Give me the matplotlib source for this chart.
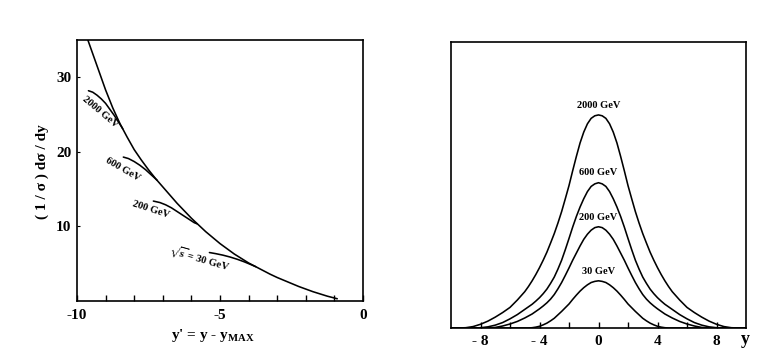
import matplotlib
matplotlib.use("Agg")
import matplotlib.pyplot as plt

# ---------------- data: left panel ----------------
main_x = [-9.62, -9.5, -9.25, -9.0, -8.75, -8.5, -8.25, -8.0, -7.75, -7.5, -7.25,
          -7.0, -6.75, -6.5, -6.25, -6.0, -5.75, -5.5, -5.25, -5.0, -4.75, -4.5,
          -4.25, -4.0, -3.75, -3.5, -3.25, -3.0, -2.75, -2.5, -2.25, -2.0, -1.75,
          -1.5, -1.25, -1.0, -0.9]
main_y = [35.0, 33.7, 31.0, 28.3, 25.9, 23.8, 22.0, 20.3, 18.9, 17.6, 16.4,
          15.3, 14.2, 13.1, 12.1, 11.1, 10.2, 9.3, 8.5, 7.7, 7.0, 6.3,
          5.7, 5.1, 4.6, 4.1, 3.6, 3.15, 2.75, 2.35, 1.95, 1.6, 1.25,
          0.95, 0.65, 0.4, 0.3]

e2000_x = [-9.60, -9.45, -9.30, -9.15, -9.00, -8.85, -8.70, -8.55, -8.40]
e2000_y = [28.2, 28.0, 27.6, 27.1, 26.5, 25.7, 24.9, 24.0, 23.1]
e600_x = [-8.38, -8.20, -8.00, -7.80, -7.60, -7.40, -7.20]
e600_y = [19.3, 19.1, 18.7, 18.2, 17.6, 16.9, 16.2]
e200_x = [-7.33, -7.10, -6.90, -6.70, -6.50, -6.30, -6.10, -5.90, -5.80]
e200_y = [13.4, 13.2, 12.9, 12.5, 12.0, 11.5, 11.0, 10.5, 10.35]
e30_x = [-5.37, -5.15, -4.90, -4.65, -4.40, -4.15, -3.90, -3.75]
e30_y = [6.5, 6.35, 6.15, 5.9, 5.6, 5.25, 4.85, 4.6]

left_labels = ["2000 GeV", "600 GeV", "200 GeV", r"$\sqrt{\mathbf{s}}$ = 30 GeV"]
left_xticks = [-10, -5, 0]
left_yticks = [10, 20, 30]

# ---------------- data: right panel ----------------
y_grid = [-10.0, -9.5, -9.0, -8.5, -8.0, -7.5, -7.0, -6.5, -6.0, -5.5,
          -5.0, -4.75, -4.5, -4.25, -4.0, -3.75, -3.5, -3.25, -3.0, -2.75, -2.5,
          -2.25, -2.0, -1.75, -1.5, -1.25, -1.0, -0.75, -0.5, -0.25, 0.0,
          0.25, 0.5, 0.75, 1.0, 1.25, 1.5, 1.75, 2.0, 2.25, 2.5,
          2.75, 3.0, 3.25, 3.5, 3.75, 4.0, 4.25, 4.5, 4.75, 5.0,
          5.5, 6.0, 6.5, 7.0, 7.5, 8.0, 8.5, 9.0, 9.5, 10.0]
dn_2000 = [0.0, 0.0, 0.01, 0.05, 0.13, 0.24, 0.38, 0.54, 0.72, 0.98,
           1.27, 1.45, 1.65, 1.87, 2.11, 2.37, 2.65, 2.97, 3.30, 3.67, 4.07,
           4.52, 4.98, 5.50, 6.00, 6.47, 6.85, 7.14, 7.33, 7.42, 7.45,
           7.42, 7.33, 7.14, 6.85, 6.47, 6.00, 5.50, 4.98, 4.52, 4.07,
           3.67, 3.30, 2.97, 2.65, 2.37, 2.11, 1.87, 1.65, 1.45, 1.27,
           0.98, 0.72, 0.54, 0.38, 0.24, 0.13, 0.05, 0.01, 0.0, 0.0]
dn_600 = [0.0, 0.0, 0.0, 0.0, 0.01, 0.04, 0.10, 0.19, 0.32, 0.47,
          0.65, 0.74, 0.83, 0.94, 1.06, 1.20, 1.36, 1.56, 1.78, 2.06, 2.37,
          2.74, 3.13, 3.53, 3.90, 4.23, 4.52, 4.77, 4.95, 5.04, 5.08,
          5.04, 4.95, 4.77, 4.52, 4.23, 3.90, 3.53, 3.13, 2.74, 2.37,
          2.06, 1.78, 1.56, 1.36, 1.20, 1.06, 0.94, 0.83, 0.74, 0.65,
          0.47, 0.32, 0.19, 0.10, 0.04, 0.01, 0.0, 0.0, 0.0, 0.0]
dn_200 = [0.0, 0.0, 0.0, 0.0, 0.0, 0.0, 0.02, 0.07, 0.14, 0.23,
          0.35, 0.42, 0.49, 0.58, 0.67, 0.77, 0.88, 1.01, 1.17, 1.37, 1.59,
          1.84, 2.10, 2.37, 2.62, 2.87, 3.10, 3.28, 3.42, 3.51, 3.54,
          3.51, 3.42, 3.28, 3.10, 2.87, 2.62, 2.37, 2.10, 1.84, 1.59,
          1.37, 1.17, 1.01, 0.88, 0.77, 0.67, 0.58, 0.49, 0.42, 0.35,
          0.23, 0.14, 0.07, 0.02, 0.0, 0.0, 0.0, 0.0, 0.0, 0.0]
dn_30 = [0.0, 0.0, 0.0, 0.0, 0.0, 0.0, 0.0, 0.0, 0.0, 0.0,
         0.0, 0.0, 0.01, 0.03, 0.06, 0.11, 0.17, 0.25, 0.34, 0.46, 0.58,
         0.71, 0.84, 1.00, 1.15, 1.29, 1.41, 1.51, 1.59, 1.63, 1.65,
         1.63, 1.59, 1.51, 1.41, 1.29, 1.15, 1.00, 0.84, 0.71, 0.58,
         0.46, 0.34, 0.25, 0.17, 0.11, 0.06, 0.03, 0.01, 0.0, 0.0,
         0.0, 0.0, 0.0, 0.0, 0.0, 0.0, 0.0, 0.0, 0.0, 0.0]
right_labels = ["2000 GeV", "600 GeV", "200 GeV", "30 GeV"]
right_xticks = [-8, -4, 0, 4, 8]
right_xticklabels = ["- 8", "- 4", "0", "4", "8"]

# ---------------- style ----------------
plt.rcParams["font.family"] = ["Liberation Serif", "DejaVu Serif"]
plt.rcParams["axes.unicode_minus"] = False
plt.rcParams["mathtext.fontset"] = "custom"
plt.rcParams["mathtext.rm"] = "Liberation Serif:bold"
plt.rcParams["mathtext.bf"] = "Liberation Serif:bold"
plt.rcParams["mathtext.it"] = "Liberation Serif:bold"
LW = 1.15
SPW = 1.2
LINE = dict(color="black", lw=LW, solid_capstyle="round", solid_joinstyle="round")

fig = plt.figure(figsize=(7.63, 3.61), dpi=100)

# ---------------- left panel ----------------
ax1 = fig.add_axes([77/763, 1 - 301/361, (363-77)/763, (301-40)/361])
ax1.plot(main_x, main_y, **LINE)
for xs, ys in [(e2000_x, e2000_y), (e600_x, e600_y), (e200_x, e200_y), (e30_x, e30_y)]:
    ax1.plot(xs, ys, **LINE)
ax1.set_xlim(-10, 0)
ax1.set_ylim(0, 35)
ax1.set_xticks(left_xticks)
ax1.set_xticks([-9, -8, -7, -6, -4, -3, -2, -1], minor=True)
ax1.set_yticks(left_yticks)
ax1.tick_params(axis="x", which="both", direction="in", length=4, width=1.0, pad=6,
                labelsize=11)
ax1.tick_params(axis="y", which="both", direction="in", length=2, width=0.8, pad=4,
                labelsize=11)
for lab in ax1.get_xticklabels() + ax1.get_yticklabels():
    lab.set_fontweight("bold")
for sp in ax1.spines.values():
    sp.set_linewidth(SPW)

lab_pos = [(-9.2, 25.3, -40), (-8.40, 17.6, -30), (-7.43, 12.2, -18), (-5.73, 5.7, -16)]
for i, (text, (lx, ly, rot)) in enumerate(zip(left_labels, lab_pos)):
    kw = dict(math_fontfamily="stix") if i == 3 else {}
    ax1.text(lx, ly, text, rotation=rot, ha="center", va="center", fontsize=7.5,
             fontweight="bold", rotation_mode="anchor", **kw)

fig.text(42/763, 1 - 172/361, "( 1 / σ ) dσ / dy", rotation=90,
         ha="center", va="center", fontsize=11, fontweight="bold")
fig.text(213/763, 1 - 336/361, r"y' = y - y$_{\mathrm{MAX}}$",
         ha="center", va="center", fontsize=11, fontweight="bold")

# ---------------- right panel ----------------
ax2 = fig.add_axes([451/763, 1 - 328/361, (746-451)/763, (328-42)/361])
for ys in [dn_2000, dn_600, dn_200, dn_30]:
    ax2.plot(y_grid, ys, **LINE)
ax2.set_xlim(-10, 10)
ax2.set_ylim(0, 10)
ax2.set_xticks(right_xticks)
ax2.set_xticklabels(right_xticklabels)
ax2.set_xticks([-6, -2, 2, 6], minor=True)
ax2.set_yticks([])
ax2.tick_params(axis="x", which="both", direction="in", length=4, width=1.0, pad=5,
                labelsize=11)
for lab in ax2.get_xticklabels():
    lab.set_fontweight("bold")
for sp in ax2.spines.values():
    sp.set_linewidth(SPW)

peak_lab_y = [7.78, 5.42, 3.88, 1.99]
for text, ly in zip(right_labels, peak_lab_y):
    ax2.text(0, ly, text, ha="center", va="center", fontsize=7.5, fontweight="bold")

fig.text(745/763, 1 - 340/361, "y", ha="center", va="center", fontsize=13,
         fontweight="bold")

fig.savefig("out.png", dpi=100)
